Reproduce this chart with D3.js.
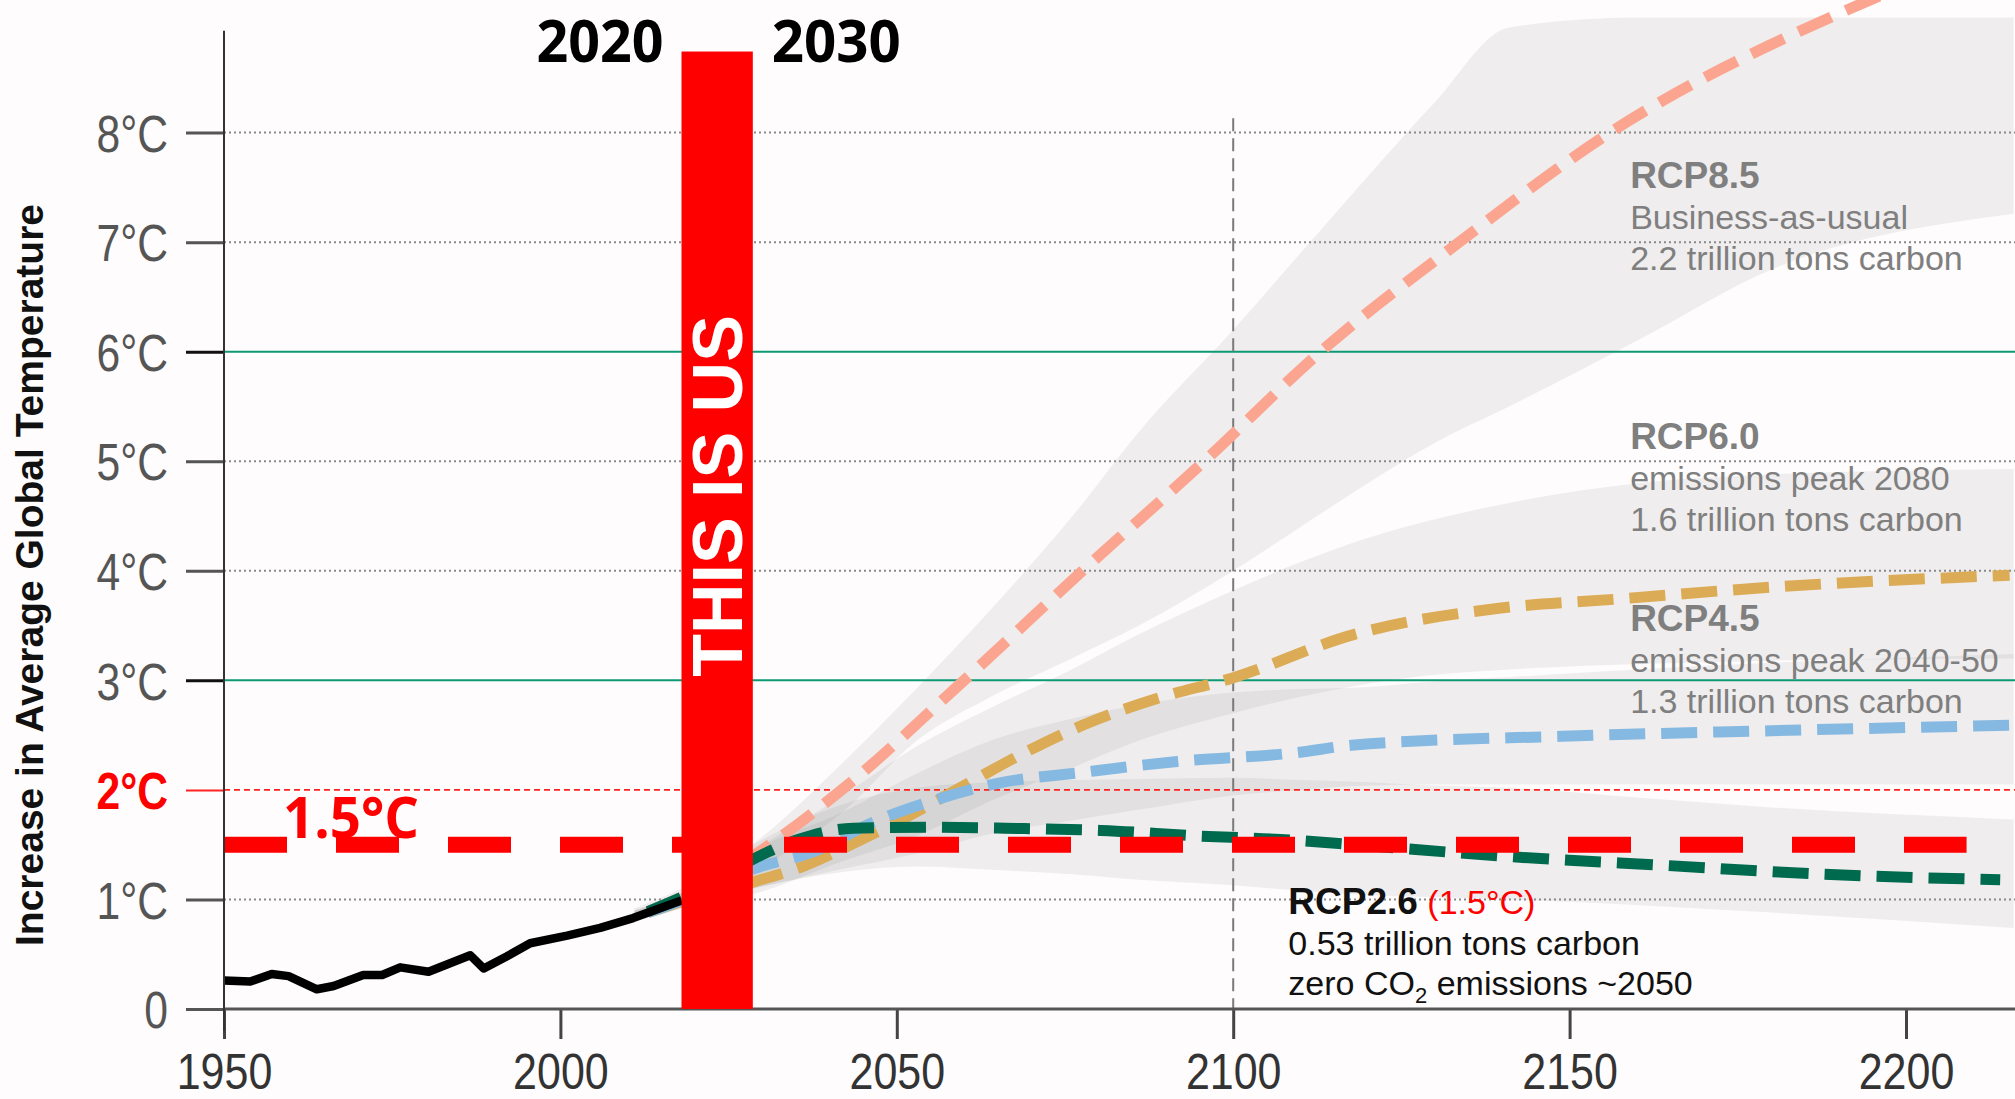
<!DOCTYPE html>
<html lang="en">
<head>
<meta charset="utf-8">
<title>Increase in Average Global Temperature</title>
<script src="https://d3js.org/d3.v7.min.js"></script>
<style>
  body { margin: 0; background: #fefcfc; }
  svg { display: block; }
  .narrow { font-family: "Liberation Sans", Arial, sans-serif; }
  .sans { font-family: "Liberation Sans", Arial, sans-serif; }
  .open { font-family: "Open Sans", sans-serif; font-weight: 700; }
</style>
</head>
<body>
<script>
'use strict'
let w = 2015
let h = 1099

// observed record
let histYears = [1950, 1953.9, 1957.1, 1959.6, 1963.8, 1966.3, 1970.7, 1973.5, 1976.2, 1980.4,
                 1986.6, 1988.6, 1992, 1995.5, 2001, 2005.9, 2010.8, 2014.8, 2018]
let histTemps = [0.26, 0.25, 0.32, 0.30, 0.18, 0.21, 0.31, 0.31, 0.38, 0.34,
                 0.49, 0.37, 0.48, 0.60, 0.67, 0.74, 0.83, 0.92, 0.99]

// scenario means
let rcp85Years = [2013, 2018, 2028.7, 2041.8, 2060, 2077.6, 2095.7, 2113, 2133.6, 2156, 2192, 2200]
let rcp85Temps = [0.89, 1.02, 1.40, 2.0, 3.0, 4.0, 5.0, 6.0, 7.0, 8.0, 9.14, 9.35]
let rcp60Years = [2013, 2018, 2028.7, 2036, 2043.5, 2051.4, 2060.6, 2069, 2077.6, 2089, 2099.8, 2118, 2139.8, 2156.7, 2179.9, 2215.4]
let rcp60Temps = [0.88, 0.98, 1.16, 1.30, 1.51, 1.75, 2.06, 2.34, 2.59, 2.84, 3.02, 3.42, 3.66, 3.74, 3.85, 3.96]
let rcp45Years = [2013, 2018, 2028.7, 2037.8, 2046.3, 2054.8, 2065, 2077.6, 2091.7, 2109.4, 2118, 2149, 2179.9, 2215.4]
let rcp45Temps = [0.88, 0.99, 1.28, 1.44, 1.70, 1.89, 2.06, 2.16, 2.26, 2.34, 2.41, 2.49, 2.54, 2.59]
let rcp26Years = [2013, 2018, 2028.7, 2035, 2043.5, 2054.8, 2066, 2080.4, 2094.6, 2109.4, 2118, 2141.3, 2164.4, 2187.6, 2214]
let rcp26Temps = [0.89, 1.02, 1.37, 1.54, 1.65, 1.66, 1.65, 1.63, 1.58, 1.54, 1.50, 1.39, 1.31, 1.23, 1.18]

// uncertainty ranges
let bandYears = [2011, 2018, 2028.7, 2042, 2053, 2064, 2076, 2086, 2100, 2110, 2120, 2130, 2141, 2160, 2180, 2216]
let rcp85Low  = [0.80, 0.92, 1.25, 1.80, 2.45, 2.85, 3.20, 3.50, 4.00, 4.40, 4.80, 5.17, 5.50, 6.10, 6.75, 7.26]
let rcp85High = [0.92, 1.10, 1.51, 2.25, 2.93, 3.65, 4.49, 5.27, 6.20, 6.90, 7.60, 8.28, 8.96, 9.05, 9.05, 9.05]
let rcp60Low  = [0.82, 0.94, 1.05, 1.35, 1.58, 1.90, 2.20, 2.45, 2.70, 2.85, 2.97, 3.05, 3.10, 3.15, 3.18, 3.20]
let rcp60High = [0.90, 1.06, 1.45, 1.95, 2.40, 2.75, 3.10, 3.42, 3.82, 4.08, 4.30, 4.47, 4.62, 4.80, 4.88, 4.93]
let rcp45Low  = [0.82, 0.94, 1.10, 1.28, 1.42, 1.60, 1.72, 1.82, 1.95, 2.00, 2.04, 2.05, 2.05, 2.05, 2.05, 2.05]
let rcp45High = [0.90, 1.06, 1.45, 1.80, 2.15, 2.45, 2.65, 2.78, 2.89, 2.92, 2.94, 2.99, 3.03, 3.10, 3.16, 3.24]
let rcp26Low  = [0.82, 0.94, 1.10, 1.25, 1.30, 1.27, 1.23, 1.18, 1.13, 1.08, 1.04, 1.02, 1.00, 0.95, 0.88, 0.74]
let rcp26High = [0.90, 1.06, 1.50, 1.87, 2.02, 2.07, 2.09, 2.10, 2.11, 2.09, 2.07, 2.04, 2.02, 1.93, 1.84, 1.73]

let yTicks = [0, 1, 2, 3, 4, 5, 6, 7, 8]
let yTickLabels = ["0", "1°C", "2°C", "3°C", "4°C", "5°C", "6°C", "7°C", "8°C"]
let xTicks = [1950, 2000, 2050, 2100, 2150, 2200]

let target = 1.5
let targetEnd = 2209
let nowStart = 2018
let nowEnd = 2028.6
let nowTop = 8.74
let refYear = 2100
let refTop = 8.13
let axisTop = 8.93

let rcpLabels = ["RCP8.5", "RCP6.0", "RCP4.5"]
let rcpDesc1 = ["Business-as-usual", "emissions peak 2080", "emissions peak 2040-50"]
let rcpDesc2 = ["2.2 trillion tons carbon", "1.6 trillion tons carbon", "1.3 trillion tons carbon"]

let xScale = d3.scaleLinear().domain([1950, 2200]).range([224, 1906])
let yScale = d3.scaleLinear().domain([0, 8]).range([1009, 132.6])
let right = w

let svg = d3.select("body").append("svg")
  .attr("width", w)
  .attr("height", h)

svg.append("rect").attr("width", w).attr("height", h).attr("fill", "#fefcfc")

// bands
let area = d3.area()
  .x((d) => xScale(d[0]))
  .y0((d) => yScale(d[1]))
  .y1((d) => yScale(d[2]))
  .curve(d3.curveMonotoneX)

let bands = [[rcp85Low, rcp85High], [rcp60Low, rcp60High], [rcp45Low, rcp45High], [rcp26Low, rcp26High]]
bands.forEach((b) => {
  svg.append("path")
    .datum(bandYears.map((y, i) => [y, b[0][i], b[1][i]]))
    .attr("d", area)
    .attr("fill", "#8a8a8a")
    .attr("fill-opacity", 0.13)
})

// grid
yTicks.filter((t) => t > 0).forEach((t) => {
  let line = svg.append("line")
    .attr("x1", xScale(1950)).attr("x2", right)
    .attr("y1", yScale(t)).attr("y2", yScale(t))
  if (t === 2) {
    line.attr("stroke", "#ff2020").attr("stroke-width", 1.6).attr("stroke-dasharray", "6,4")
  } else if (t === 3 || t === 6) {
    line.attr("stroke", "#0c9a74").attr("stroke-width", 2)
  } else {
    line.attr("stroke", "#8a8a8a").attr("stroke-width", 2).attr("stroke-dasharray", "2,3")
  }
})

svg.append("line")
  .attr("x1", xScale(refYear)).attr("x2", xScale(refYear))
  .attr("y1", yScale(refTop)).attr("y2", yScale(0))
  .attr("stroke", "#7a7a7a").attr("stroke-width", 2)
  .attr("stroke-dasharray", "13,7")

// scenario lines
let line = d3.line()
  .x((d) => xScale(d[0]))
  .y((d) => yScale(d[1]))
  .curve(d3.curveMonotoneX)

let series = [
  [rcp85Years, rcp85Temps, "#fba590"],
  [rcp60Years, rcp60Temps, "#dcab55"],
  [rcp45Years, rcp45Temps, "#86b9e1"],
  [rcp26Years, rcp26Temps, "#006a4e"]
]
series.forEach((s) => {
  svg.append("path")
    .datum(s[0].map((y, i) => [y, s[1][i]]))
    .attr("d", line)
    .attr("fill", "none")
    .attr("stroke", s[2])
    .attr("stroke-width", 11)
    .attr("stroke-dasharray", "36,16")
})

svg.append("path")
  .datum(histYears.map((y, i) => [y, histTemps[i]]))
  .attr("d", d3.line().x((d) => xScale(d[0])).y((d) => yScale(d[1])))
  .attr("fill", "none")
  .attr("stroke", "#000")
  .attr("stroke-width", 8.5)
  .attr("stroke-linejoin", "round")

// 1.5 target
svg.append("line")
  .attr("x1", xScale(1950)).attr("x2", xScale(targetEnd))
  .attr("y1", yScale(target)).attr("y2", yScale(target))
  .attr("stroke", "#ff0000").attr("stroke-width", 16)
  .attr("stroke-dasharray", "63,49")

// axes (labels squeezed to look like a narrow face)
let squeezeY = 0.82
let squeezeX = 0.86

let yAxis = svg.append("g")
  .attr("transform", "translate(" + xScale(1950) + ",0)")
  .call(d3.axisLeft(yScale).tickValues(yTicks).tickSize(38).tickPadding(18)
    .tickFormat((d, i) => yTickLabels[i]))
yAxis.select(".domain").remove()
yAxis.selectAll(".tick line")
  .attr("stroke", (d) => d === 2 ? "#ff2020" : (d === 3 || d === 6 ? "#111" : "#555"))
  .attr("stroke-width", (d) => d === 2 ? 2 : 3)
yAxis.selectAll(".tick text")
  .attr("class", "narrow")
  .attr("font-size", 52)
  .attr("x", -56 / squeezeY)
  .attr("dy", "0.36em")
  .attr("transform", "scale(" + squeezeY + ",1)")
  .attr("fill", (d) => d === 2 ? "#ff0000" : "#555")
  .attr("font-weight", (d) => d === 2 ? "bold" : "normal")

let xAxis = svg.append("g")
  .attr("transform", "translate(0," + yScale(0) + ")")
  .call(d3.axisBottom(xScale).tickValues(xTicks).tickSize(30).tickFormat(d3.format("d")))
xAxis.select(".domain").remove()
xAxis.selectAll(".tick line").attr("stroke", "#444").attr("stroke-width", 3)
xAxis.selectAll(".tick text")
  .attr("class", "narrow")
  .attr("font-size", 50)
  .attr("y", 80)
  .attr("dy", 0)
  .attr("transform", "scale(" + squeezeX + ",1)")
  .attr("fill", "#333")

svg.append("line")
  .attr("x1", xScale(1950)).attr("x2", right)
  .attr("y1", yScale(0)).attr("y2", yScale(0))
  .attr("stroke", "#555").attr("stroke-width", 3)
svg.append("line")
  .attr("x1", xScale(1950)).attr("x2", xScale(1950))
  .attr("y1", yScale(axisTop)).attr("y2", yScale(0) + 22)
  .attr("stroke", "#333").attr("stroke-width", 2)

// now bar
let barX = xScale(nowStart)
let barW = xScale(nowEnd) - xScale(nowStart)
svg.append("rect")
  .attr("x", barX).attr("width", barW)
  .attr("y", yScale(nowTop)).attr("height", yScale(0) - yScale(nowTop))
  .attr("fill", "#ff0000")
svg.append("text")
  .attr("class", "sans")
  .attr("transform", "translate(" + (barX + barW / 2 + 25) + ",496) rotate(-90)")
  .attr("text-anchor", "middle")
  .attr("font-size", 70).attr("font-weight", "bold")
  .attr("fill", "#fff")
  .text("THIS IS US")

svg.append("text").attr("class", "open")
  .attr("x", barX - 18 - 127).attr("y", 62)
  .attr("font-size", 59).attr("textLength", 127).attr("lengthAdjust", "spacingAndGlyphs")
  .attr("fill", "#000").text("2020")
svg.append("text").attr("class", "open")
  .attr("x", barX + barW + 19).attr("y", 62)
  .attr("font-size", 59).attr("textLength", 129).attr("lengthAdjust", "spacingAndGlyphs")
  .attr("fill", "#000").text("2030")

svg.append("text").attr("class", "open")
  .attr("x", 283).attr("y", yScale(target) - 7)
  .attr("font-size", 57).attr("textLength", 136).attr("lengthAdjust", "spacingAndGlyphs")
  .attr("fill", "#ff0000").text("1.5°C")

// scenario notes
let noteX = xScale(2159)
let noteTops = [7.49, 5.116, 3.45]
rcpLabels.forEach((lab, i) => {
  let y0 = yScale(noteTops[i])
  let g = svg.append("g").attr("class", "sans").attr("fill", "#7f7f7f")
  g.append("text").attr("x", noteX).attr("y", y0).attr("font-size", 37).attr("font-weight", "bold").text(lab)
  g.append("text").attr("x", noteX).attr("y", y0 + 41).attr("font-size", 34).text(rcpDesc1[i])
  g.append("text").attr("x", noteX).attr("y", y0 + 82).attr("font-size", 34).text(rcpDesc2[i])
})

let n26x = xScale(2108.2)
let n26y = yScale(0.87)
let g26 = svg.append("g").attr("class", "sans").attr("fill", "#111")
let t26 = g26.append("text").attr("x", n26x).attr("y", n26y).attr("font-size", 37)
t26.append("tspan").attr("font-weight", "bold").text("RCP2.6")
t26.append("tspan").attr("fill", "#ff0000").attr("font-size", 34).text(" (1.5°C)")
g26.append("text").attr("x", n26x).attr("y", n26y + 41).attr("font-size", 34).text("0.53 trillion tons carbon")
let tz = g26.append("text").attr("x", n26x).attr("y", n26y + 81).attr("font-size", 34)
tz.append("tspan").text("zero CO")
tz.append("tspan").attr("font-size", 22).attr("dy", 8).text("2")
tz.append("tspan").attr("dy", -8).text(" emissions ~2050")

svg.append("text")
  .attr("class", "sans")
  .attr("transform", "translate(43,575) rotate(-90)")
  .attr("text-anchor", "middle")
  .attr("font-size", 39).attr("font-weight", "bold")
  .attr("fill", "#111")
  .text("Increase in Average Global Temperature")
</script>
</body>
</html>
